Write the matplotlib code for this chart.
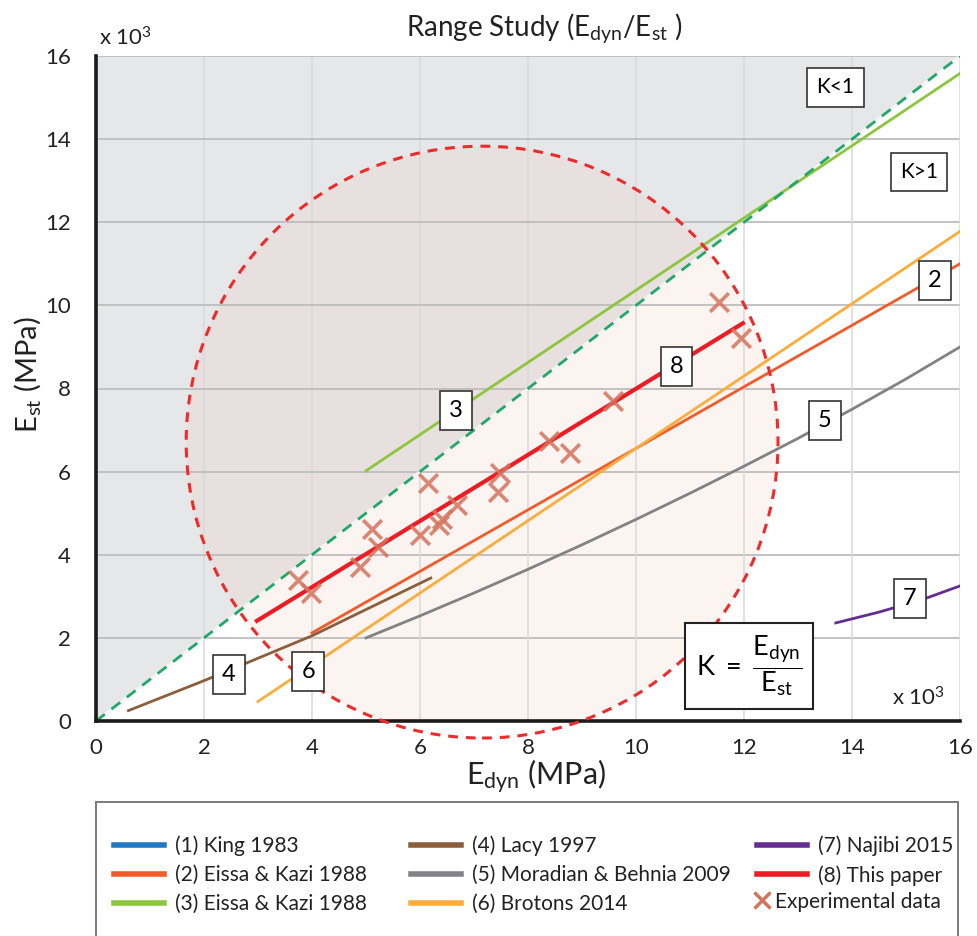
import matplotlib
matplotlib.use("Agg")
import matplotlib.pyplot as plt
from matplotlib.lines import Line2D
from matplotlib.patches import Ellipse, Rectangle

plt.rcParams["font.family"] = ["Lato", "DejaVu Sans"]
plt.rcParams["mathtext.fontset"] = "custom"
plt.rcParams["mathtext.rm"] = "Lato"
plt.rcParams["mathtext.it"] = "Lato:italic"

#### Data (in units of 10^3 MPa)

# (2) Eissa & Kazi 1988
eissa2_x = [4.0, 16.0]
eissa2_y = [2.12, 11.0]
# (3) Eissa & Kazi 1988
eissa3_x = [5.0, 16.0]
eissa3_y = [6.02, 15.58]
# (4) Lacy 1997
lacy_x = [0.6, 2.0, 4.0, 6.2]
lacy_y = [0.25, 0.97, 2.05, 3.44]
# (5) Moradian & Behnia 2009
morad_x = [5, 6, 7, 8, 9, 10, 11, 12, 13, 14, 15, 16]
morad_y = [2.0, 2.53, 3.08, 3.65, 4.24, 4.85, 5.48, 6.13, 6.8, 7.5, 8.23, 9.0]
# (6) Brotons 2014
brot_x = [3.0, 16.0]
brot_y = [0.47, 11.78]
# (7) Najibi 2015
najibi_x = [13.7, 14.5, 15.3, 16.0]
najibi_y = [2.36, 2.62, 2.92, 3.25]
# (8) This paper
paper_x = [2.98, 11.98]
paper_y = [2.41, 9.57]
# K = 1 line
k1_x = [0, 16]
k1_y = [0, 16]

# Experimental data
exp_x = [3.75, 3.98, 4.89, 5.11, 5.23, 6.0, 6.14, 6.35, 6.40, 6.68, 7.45, 7.48,
         8.38, 8.78, 9.58, 11.54, 11.94]
exp_y = [3.39, 3.07, 3.70, 4.62, 4.19, 4.48, 5.73, 4.72, 4.85, 5.20, 5.50, 5.96,
         6.74, 6.44, 7.71, 10.07, 9.21]

# Range circle (centre, half-width, half-height)
circ_cx, circ_cy = 7.15, 6.71
circ_rx, circ_ry = 5.48, 7.12

# Numbered tags on the curves
tag_text = ["2", "3", "4", "5", "6", "7", "8"]
tag_x = [15.54, 6.67, 2.46, 13.5, 3.93, 15.07, 10.75]
tag_y = [10.59, 7.48, 1.13, 7.24, 1.2, 2.94, 8.54]

ticks = [0, 2, 4, 6, 8, 10, 12, 14, 16]

# Colours
c_king = "#1f78c1"
c_eissa2 = "#f15a29"
c_eissa3 = "#8cc63f"
c_lacy = "#8b5e3c"
c_morad = "#808285"
c_brot = "#fbad3b"
c_najibi = "#662d91"
c_paper = "#ed1c24"
c_exp = "#d6735c"
c_k1 = "#1fa866"

fig = plt.figure(figsize=(9.78, 9.36), dpi=100)
ax = fig.add_axes([96 / 978, 1 - 721 / 936, 864 / 978, 665 / 936])

# K<1 region (shaded grey above the K = 1 line)
ax.fill_between(k1_x, k1_y, [16, 16], color="#e6e7e9", lw=0, zorder=0.1)

# Range circle: pale fill below the grid, dashed outline on top
ax.add_patch(Ellipse((circ_cx, circ_cy), 2 * circ_rx, 2 * circ_ry,
                     facecolor="#f0c8b4", alpha=0.2, edgecolor="none", zorder=0.2))
ax.add_patch(Ellipse((circ_cx, circ_cy), 2 * circ_rx, 2 * circ_ry,
                     facecolor="none", edgecolor="#ee2a2a", lw=2.2,
                     linestyle=(0, (3.2, 2.6)), zorder=5, clip_on=False))

# Grid
ax.set_axisbelow(True)
for t in ticks:
    ax.axhline(t, color="#bdbdbd", lw=1.3, zorder=0.5)
    ax.axvline(t, color="#d9d9d9", lw=1.1, zorder=0.5)

# Curves
ax.plot(k1_x, k1_y, color="#f4f4f4", lw=2.0, zorder=2)
ax.plot(k1_x, k1_y, color=c_k1, lw=2.0, linestyle=(0, (4, 3)), zorder=2.1)
ax.plot(eissa3_x, eissa3_y, color=c_eissa3, lw=2, zorder=2)
ax.plot(eissa2_x, eissa2_y, color=c_eissa2, lw=2, zorder=2)
ax.plot(brot_x, brot_y, color=c_brot, lw=2, zorder=2)
ax.plot(morad_x, morad_y, color=c_morad, lw=2, zorder=2)
ax.plot(lacy_x, lacy_y, color=c_lacy, lw=2, zorder=2)
ax.plot(najibi_x, najibi_y, color=c_najibi, lw=2, zorder=2)
ax.plot(paper_x, paper_y, color=c_paper, lw=3, zorder=3)
ax.scatter(exp_x, exp_y, marker="x", s=180, linewidths=2.6, color=c_exp,
           alpha=0.85, zorder=4)

# Tags
box = dict(boxstyle="square,pad=0.38", facecolor="white", edgecolor="#333333", lw=1.2)
for t, x, y in zip(tag_text, tag_x, tag_y):
    ax.text(x, y, t, fontsize=17, ha="center", va="center", bbox=box, zorder=6)
box_k = dict(boxstyle="square,pad=0.45", facecolor="white", edgecolor="#333333", lw=1.2)
ax.text(13.69, 15.25, "K<1", fontsize=15, ha="center", va="center", bbox=box_k, zorder=6)
ax.text(15.24, 13.21, "K>1", fontsize=15, ha="center", va="center", bbox=box_k, zorder=6)
ax.text(12.09, 1.32, r"$\mathrm{K\ =\ }\dfrac{\mathrm{E_{dyn}}}{\mathrm{E_{st}}}$",
        fontsize=19.5, ha="center", va="center", zorder=6,
        bbox=dict(boxstyle="square,pad=0.4", facecolor="white",
                  edgecolor="#222222", lw=1.5))

# Axes styling
ax.set_xlim(0, 16)
ax.set_ylim(0, 16)
ax.set_xticks(ticks)
ax.set_yticks(ticks)
ax.tick_params(length=0, labelsize=16, colors="#222222")
ax.tick_params(axis="x", pad=12)
ax.tick_params(axis="y", pad=18)
for s in ["top", "right"]:
    ax.spines[s].set_visible(False)
for s in ["left", "bottom"]:
    ax.spines[s].set_linewidth(2.6)
    ax.spines[s].set_color("#1a1a1a")

fig.text(544 / 978, 1 - 28 / 936, r"Range Study ($\mathrm{E_{dyn}/E_{st}}$ )",
         fontsize=20, ha="center", va="center", color="#222222")
fig.text(536 / 978, 1 - 777 / 936, r"$\mathrm{E_{dyn}}$ (MPa)",
         fontsize=22, ha="center", va="center", color="#222222")
fig.text(28 / 978, 1 - 375 / 936, r"$\mathrm{E_{st}}$ (MPa)", rotation=90,
         fontsize=21, ha="center", va="center", color="#222222")
fig.text(99 / 978, 1 - 38 / 936, r"x 10$^3$", fontsize=16, ha="left",
         va="center", color="#222222")
fig.text(892 / 978, 1 - 698 / 936, r"x 10$^3$", fontsize=16, ha="left",
         va="center", color="#222222")

# Legend box
fig.patches.append(Rectangle((96 / 978, 1 - 945 / 936), 862 / 978, 143 / 936,
                             transform=fig.transFigure, facecolor="none",
                             edgecolor="#7a7a7a", lw=1.4))

col1 = [Line2D([], [], color=c_king, lw=4),
        Line2D([], [], color=c_eissa2, lw=4),
        Line2D([], [], color=c_eissa3, lw=4)]
lab1 = ["(1) King 1983", "(2) Eissa & Kazi 1988", "(3) Eissa & Kazi 1988"]
col2 = [Line2D([], [], color=c_lacy, lw=4),
        Line2D([], [], color=c_morad, lw=4),
        Line2D([], [], color=c_brot, lw=4)]
lab2 = ["(4) Lacy 1997", "(5) Moradian & Behnia 2009", "(6) Brotons 2014"]
col3 = [Line2D([], [], color=c_najibi, lw=4),
        Line2D([], [], color=c_paper, lw=4)]
lab3 = ["(7) Najibi 2015", "(8) This paper"]

leg_kw = dict(loc="upper left", frameon=False, fontsize=15,
              labelspacing=0.43, borderpad=0.2, labelcolor="#222222")
for hs, ls, x0 in [(col1, lab1, 99), (col2, lab2, 396), (col3, lab3, 742)]:
    fig.legend(hs, ls, bbox_to_anchor=(x0 / 978, 1 - 821 / 936),
               handlelength=2.4, handletextpad=0.55, **leg_kw)
fig.legend([Line2D([], [], color=c_exp, lw=0, marker="x", markersize=11, mew=2.5)],
           ["Experimental data"], bbox_to_anchor=(740 / 978, 1 - 877 / 936),
           handlelength=0.7, handletextpad=0.3, **leg_kw)

fig.savefig("out.png", dpi=100)
